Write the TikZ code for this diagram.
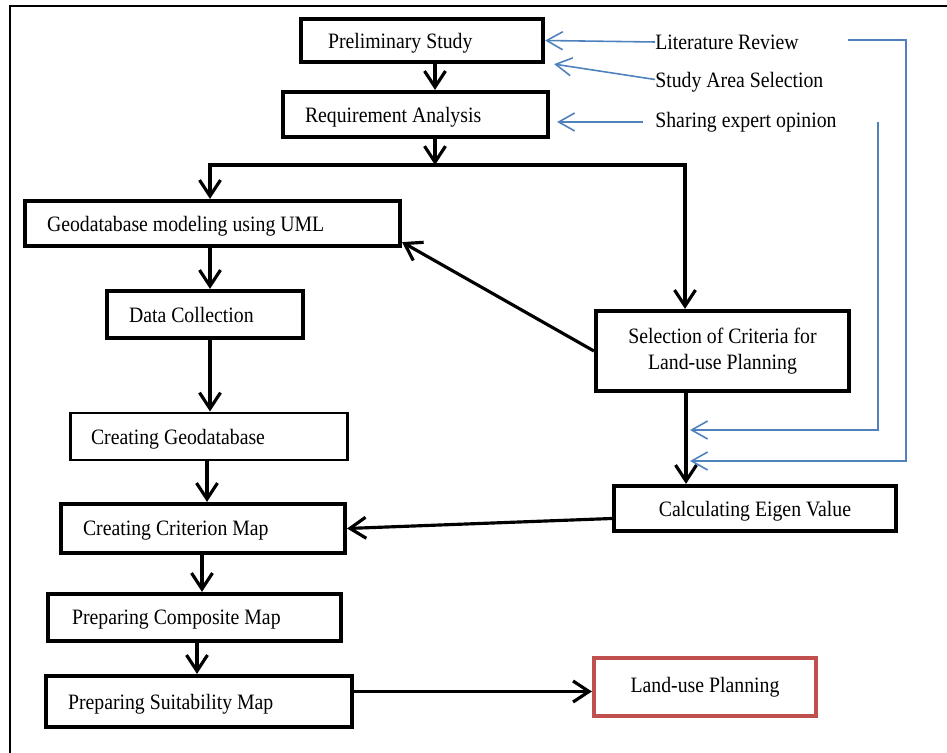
\documentclass[tikz,border=0pt]{standalone}
\usepackage{fontspec}
\setmainfont[FakeStretch=0.9]{Liberation Serif}
\usetikzlibrary{arrows.meta}
\definecolor{feedblue}{HTML}{4F81BD}
\definecolor{goalred}{HTML}{C0504D}
\tikzset{
  stage/.style={draw,line width=2.4pt,align=flush center,minimum height=0.9cm,inner ysep=2pt},
  lstage/.style={stage,align=flush left,text depth=0pt},
  note/.style={anchor=west,inner sep=0pt},
  flow/.style={-{Straight Barb[length=3.2mm,width=4.2mm]},line width=1.8pt},
  feed/.style={-{Straight Barb[length=3.2mm,width=3.6mm]},draw=feedblue,line width=0.9pt}
}

\begin{document}
\begin{tikzpicture}[x=0.02cm,y=-0.02cm,font=\fontsize{12.5}{15}\selectfont]
  \useasboundingbox (0,0) rectangle (947,753);
  \draw[line width=1.1pt] (947,6) -- (10,6) -- (10,753);

  \node[lstage,text width=3.76cm,inner xsep=0.54cm,minimum height=0.86cm] (prelim) at (422,40.5) {Preliminary Study};
  \node[lstage,text width=4.42cm,inner xsep=0.44cm] (req) at (415.5,114.5) {Requirement Analysis};
  \node[lstage,text width=6.62cm,inner xsep=0.44cm] (geo) at (212.5,223.5) {Geodatabase modeling using UML};
  \node[lstage,text width=3.04cm,inner xsep=0.44cm,minimum height=0.94cm] (data) at (205,314.5) {Data Collection};
  \node[stage,minimum width=5.06cm,minimum height=1.6cm] (sel) at (722.5,351) {Selection of Criteria for\\Land-use Planning};
  \node[lstage,line width=1.7pt,text width=4.72cm,inner xsep=0.42cm,minimum height=0.94cm] (cgeo) at (209,436.5) {Creating Geodatabase};
  \node[lstage,text width=4.8cm,inner xsep=0.44cm,minimum height=0.98cm] (crit) at (203,528.5) {Creating Criterion Map};
  \node[stage,text depth=0pt,minimum width=5.64cm] (eigen) at (755,508.5) {Calculating Eigen Value};
  \node[lstage,text width=4.9cm,inner xsep=0.48cm,minimum height=0.94cm] (comp) at (194.5,617.5) {Preparing Composite Map};
  \node[lstage,text width=5.24cm,inner xsep=0.44cm,minimum height=1.02cm] (suit) at (199,701.5) {Preparing Suitability Map};
  \node[stage,draw=goalred,minimum width=4.44cm,minimum height=1.16cm] (land) at (705,687) {Land-use Planning};

  \node[note] (lit) at (655,42) {Literature Review};
  \node[note] (area) at (655,82) {Study Area Selection};
  \node[note] (share) at (655,122) {Sharing expert opinion};

  \coordinate (split) at (435,165);
  \coordinate (feedA) at (690,430);
  \coordinate (feedB) at (690,461);
  \coordinate (fbA) at (878,122);
  \coordinate (fbB) at (848,40);

  \draw[flow] (prelim.south -| split) -- (req.north -| split);
  \draw[flow] (req.south -| split) -- (split);
  \draw[flow] (split) -| ([xshift=-0.05cm]geo.north);
  \draw[flow] (split) -| ([xshift=-0.75cm]sel.north);
  \draw[flow] ([xshift=-0.05cm]geo.south) -- ([xshift=-0.05cm]geo.south |- data.north);
  \draw[flow] ([xshift=0.1cm]data.south) -- ([xshift=0.1cm]data.south |- cgeo.north);
  \draw[flow] ([xshift=-0.04cm]cgeo.south) -- ([xshift=-0.04cm]cgeo.south |- crit.north);
  \draw[flow] ([xshift=-0.02cm]crit.south) -- ([xshift=-0.02cm]crit.south |- comp.north);
  \draw[flow] ([xshift=0.05cm]comp.south) -- ([xshift=0.05cm]comp.south |- suit.north);
  \draw[flow] ([yshift=0.2cm]suit.east) -- ([yshift=0.2cm]suit.east -| land.west);
  \draw[flow] (sel.west) -- ([yshift=0.12cm]geo.south east);
  \draw[flow] ([xshift=-0.73cm]sel.south) -- ([xshift=-0.73cm]sel.south |- eigen.north);
  \draw[flow] ([yshift=-0.2cm]eigen.west) -- (crit.east);

  \draw[feed] (lit.west) -- (prelim.east);
  \draw[feed] ([yshift=0.05cm]area.west) -- ([xshift=0.18cm]prelim.south east);
  \draw[feed] ([xshift=-0.24cm]share.west) -- ([xshift=0.14cm]req.east |- share.west);
  \draw[feed] (fbB) -- ++(58,0) |- (feedB);
  \draw[feed] (fbA) |- (feedA);
\end{tikzpicture}
\end{document}
